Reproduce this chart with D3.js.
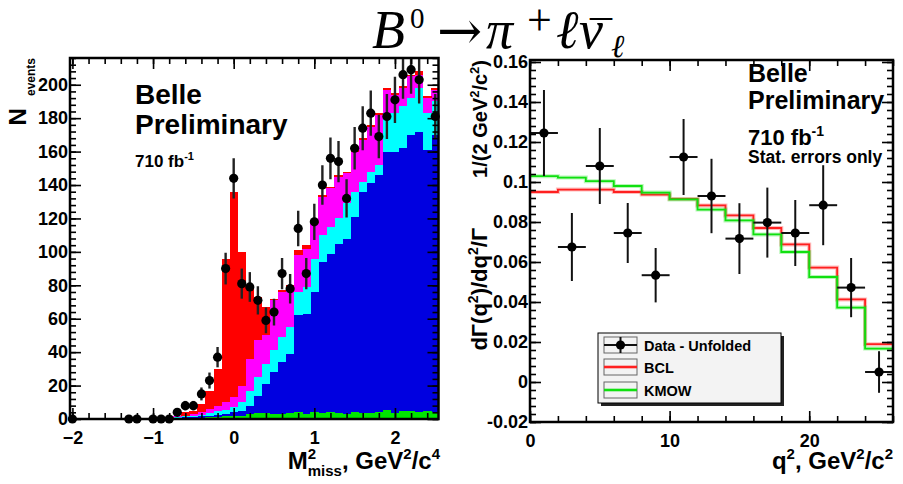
<!DOCTYPE html>
<html>
<head>
<meta charset="utf-8">
<script src="https://cdn.jsdelivr.net/npm/d3@7"></script>
<style>
  body { margin: 0; background: #fff; }
  text { font-family: "Liberation Sans", Arial, sans-serif; font-weight: bold; }
  text.title, text.title tspan { font-family: "Liberation Serif", "DejaVu Serif", serif; font-weight: normal; }
</style>
</head>
<body>
<svg id="chart" width="903" height="484"></svg>
<script>
// ---------- left panel: M^2_miss distribution (bin centres, width 0.1) ----------
const mmBins = [-2.0,-1.9,-1.8,-1.7,-1.6,-1.5,-1.4,-1.3,-1.2,-1.1,-1.0,-0.9,-0.8,-0.7,-0.6,-0.5,-0.4,-0.3,-0.2,-0.1,
  0.0,0.1,0.2,0.3,0.4,0.5,0.6,0.7,0.8,0.9,1.0,1.1,1.2,1.3,1.4,1.5,1.6,1.7,1.8,1.9,2.0,2.1,2.2,2.3,2.4,2.5];
const mmGreen = [.5,.5,.5,.5,.5,.5,.5,.5,.5,.5,.5,.5,
  .5,.5,.5,.5,.7,1,1,1.5,2,2,3,3.5,3.5,3,3,3.5,4,3,4,3.5,4,3.5,3,4,3.5,3.5,4,5.5,3.5,4.5,5,4,5,4];
const mmBlue = [0,0,0,0,0,0,0,0,0,0,0,0,
  .1,.2,.5,.7,.8,1,1.5,1.5,2,3,5,10.5,17.5,25,31,35.5,58,60,72,90.5,95,101.5,105,117,132.5,137.5,142,154.5,156.5,157.5,165,168,156,166];
const mmCyan = [0,0,0,0,0,0,0,0,0,0,0,0,
  .1,.3,.5,.8,1,1.5,2,2.5,3,5,9,11,12,13,15,16,14,16,20,16,16,15,21,15,6,7,6,23,23,25,22,26,22,20];
const mmMagenta = [0,0,0,0,0,0,0,0,0,0,0,0,
  .1,.5,.5,1,1.5,2.5,3.5,4.5,6,10,19,22,17,30,27,24,22,23,21,23,23,25,18,24,25,27,30,14,11,11,13,8,9,7];
const mmRed = [0,0,0,0,0,0,0,0,0,0,0,0,
  .2,.5,2,2,5,11,22,86,123,80,42,26,17,1,1,1,3,2,1,1,1,1,1,1,1,1,1,1,1,1,1,2,1,1];
const mmData = [0,null,null,null,null,null,null,0,0,null,0,0,0,
  4,8,8,15,23,37,90,144,81,79,71,59,64,87,78,114,87,118,140,156,154,132,162,174,183,169,181,191,206,209,203,null,181];
const mmXTicks = [-2, -1, 0, 1, 2];
const mmYTicks = [0, 20, 40, 60, 80, 100, 120, 140, 160, 180, 200];

// ---------- right panel: unfolded q^2 spectrum (bins of 2 GeV^2) ----------
const qLo = [0, 2, 4, 6, 8, 10, 12, 14, 16, 18, 20, 22, 24];
const qHi = [2, 4, 6, 8, 10, 12, 14, 16, 18, 20, 22, 24, 26];
const qData = [0.1245, 0.0675, 0.108, 0.0745, 0.0534, 0.1125, 0.093, 0.0717, 0.0797, 0.0745, 0.0884, 0.0472, 0.005];
const qErr = [0.0215, 0.017, 0.019, 0.015, 0.0136, 0.019, 0.0186, 0.0177, 0.0175, 0.0165, 0.020, 0.0148, 0.0104];
const qBCL = [0.0950, 0.0962, 0.0962, 0.0950, 0.0937, 0.0915, 0.0883, 0.0833, 0.0770, 0.0688, 0.0572, 0.0413, 0.0189];
const qKMOW = [0.1029, 0.1022, 0.1004, 0.0980, 0.0947, 0.0913, 0.0862, 0.0808, 0.0738, 0.0650, 0.0525, 0.0372, 0.0167];
const qXTicks = [0, 10, 20];
const qYTicks = [-0.02, 0, 0.02, 0.04, 0.06, 0.08, 0.1, 0.12, 0.14, 0.16];

const svg = d3.select('#chart');
svg.append('rect').attr('width', 903).attr('height', 484).attr('fill', '#fff');

// ROOT-style frame: inward ticks on all four sides, labels bottom/left
function frameAxes(g, x, y, o) {
  const [xa, xb] = x.range();
  const [yb, ya] = y.range();
  const put = (axis, tx, ty) => g.append('g')
    .attr('transform', `translate(${tx},${ty})`)
    .call(axis)
    .call(s => s.select('.domain').remove())
    .attr('font-size', 18)
    .attr('font-family', '"Liberation Sans", Arial, sans-serif')
    .attr('font-weight', 'bold');

  put(d3.axisBottom(x).tickValues(o.xMajor).tickSize(-11).tickPadding(o.xPad).tickFormat(o.xFmt), 0, yb);
  put(d3.axisBottom(x).tickValues(o.xMinor).tickSize(-6).tickFormat(''), 0, yb);
  put(d3.axisTop(x).tickValues(o.xMajor).tickSize(-11).tickFormat(''), 0, ya);
  put(d3.axisTop(x).tickValues(o.xMinor).tickSize(-6).tickFormat(''), 0, ya);
  put(d3.axisLeft(y).tickValues(o.yMajor).tickSize(-11).tickPadding(o.yPad).tickFormat(o.yFmt), xa, 0);
  put(d3.axisLeft(y).tickValues(o.yMinor).tickSize(-6).tickFormat(''), xa, 0);
  put(d3.axisRight(y).tickValues(o.yMajor).tickSize(-11).tickFormat(''), xb, 0);
  put(d3.axisRight(y).tickValues(o.yMinor).tickSize(-6).tickFormat(''), xb, 0);

  g.selectAll('.tick line').attr('stroke', '#000').attr('stroke-width', 1.6);
  g.selectAll('.tick text').attr('fill', '#000');

  g.append('rect')
    .attr('x', xa).attr('y', ya)
    .attr('width', xb - xa).attr('height', yb - ya)
    .attr('fill', 'none').attr('stroke', '#000').attr('stroke-width', 2.5);
}

// ================= LEFT PANEL =================
const xL = d3.scaleLinear().domain([-2.03, 2.54]).range([70, 438.5]);
const yL = d3.scaleLinear().domain([0, 216]).range([419, 58]);
const gL = svg.append('g');

svg.append('clipPath').attr('id', 'clipL')
  .append('rect').attr('x', 70).attr('y', 58).attr('width', 368.5).attr('height', 361);

const rows = mmBins.map((b, i) => ({
  bin: b, green: mmGreen[i], blue: mmBlue[i], cyan: mmCyan[i], magenta: mmMagenta[i], red: mmRed[i]
}));
const layers = d3.stack().keys(['green', 'blue', 'cyan', 'magenta', 'red'])(rows);
const fills = {green: '#00e600', blue: '#0000e0', cyan: '#00ffff', magenta: '#ff00ff', red: '#ff0000'};

const histG = gL.append('g').attr('clip-path', 'url(#clipL)');
// draw the lower layers last-to-first so green sits visibly on the bottom
['blue', 'cyan', 'magenta', 'red', 'green'].forEach(key => {
  const layer = layers.find(l => l.key === key);
  histG.append('g').selectAll('rect')
    .data(layer)
    .join('rect')
      .attr('x', d => xL(d.data.bin - 0.05))
      .attr('width', d => xL(d.data.bin + 0.05) - xL(d.data.bin - 0.05) + 0.3)
      .attr('y', d => yL(d[1]))
      .attr('height', d => Math.max(0, yL(d[0]) - yL(d[1])))
      .attr('fill', fills[key])
      .attr('shape-rendering', 'crispEdges');
});

const pts = mmBins.map((b, i) => ({bin: b, n: mmData[i]})).filter(d => d.n !== null);
gL.append('g').attr('clip-path', 'url(#clipL)').selectAll('line')
  .data(pts.filter(d => d.n > 0))
  .join('line')
    .attr('x1', d => xL(d.bin)).attr('x2', d => xL(d.bin))
    .attr('y1', d => yL(d.n + Math.sqrt(d.n)))
    .attr('y2', d => yL(d.n - Math.sqrt(d.n)))
    .attr('stroke', '#222').attr('stroke-width', 2.4);
gL.append('g').selectAll('circle')
  .data(pts)
  .join('circle')
    .attr('cx', d => xL(d.bin))
    .attr('cy', d => yL(d.n))
    .attr('r', 4.6)
    .attr('fill', '#000');

frameAxes(gL, xL, yL, {
  xMajor: mmXTicks, xMinor: d3.range(-2, 2.55, 0.2), xPad: 12, xFmt: d3.format('d'),
  yMajor: mmYTicks, yMinor: d3.range(0, 217, 4), yPad: 2, yFmt: d3.format('d')
});

// texts left
gL.append('text').attr('x', 135).attr('y', 104).attr('font-size', 28).text('Belle');
gL.append('text').attr('x', 135).attr('y', 134).attr('font-size', 28).text('Preliminary');
gL.append('text').attr('x', 135).attr('y', 167).attr('font-size', 17)
  .call(t => {
    t.append('tspan').text('710 fb');
    t.append('tspan').attr('font-size', 11).attr('dy', -7).text('-1');
  });

// x title left: M^2_miss, GeV^2/c^4 (right aligned to frame)
gL.append('text').attr('x', 440).attr('y', 469).attr('text-anchor', 'end').attr('font-size', 24)
  .call(t => {
    t.append('tspan').text('M');
    t.append('tspan').attr('font-size', 15).attr('dy', -10).text('2');
    t.append('tspan').attr('font-size', 15).attr('dx', -8.3).attr('dy', 17).text('miss');
    t.append('tspan').attr('dy', -7).text(', GeV');
    t.append('tspan').attr('font-size', 15).attr('dy', -10).text('2');
    t.append('tspan').attr('dy', 10).text('/c');
    t.append('tspan').attr('font-size', 15).attr('dy', -10).text('4');
  });

// y title left: N_events
gL.append('text').attr('transform', 'translate(26,58) rotate(-90)')
  .attr('text-anchor', 'end').attr('font-size', 24)
  .call(t => {
    t.append('tspan').text('N');
    t.append('tspan').attr('font-size', 12).attr('dx', 12).attr('dy', 9).text('events');
  });

// ================= RIGHT PANEL =================
const xR = d3.scaleLinear().domain([0, 26]).range([530, 893]);
const yR = d3.scaleLinear().domain([-0.02, 0.161]).range([422, 60]);
const gR = svg.append('g');

svg.append('clipPath').attr('id', 'clipR')
  .append('rect').attr('x', 530).attr('y', 60).attr('width', 363).attr('height', 362);

const stepLine = d3.line().x(d => xR(d[0])).y(d => yR(d[1])).curve(d3.curveStepAfter);
const stepPts = vals => vals.map((v, i) => [qLo[i], v]).concat([[qHi[qHi.length - 1], vals[vals.length - 1]]]);

const curves = gR.append('g').attr('clip-path', 'url(#clipR)');
[[qBCL, '#ff2020'], [qKMOW, '#10e010']].forEach(([vals, col]) => {
  curves.append('path').datum(stepPts(vals))
    .attr('d', stepLine).attr('fill', 'none')
    .attr('stroke', col).attr('stroke-opacity', 0.3).attr('stroke-width', 4);
  curves.append('path').datum(stepPts(vals))
    .attr('d', stepLine).attr('fill', 'none')
    .attr('stroke', col).attr('stroke-width', 1.8);
});

const qPts = qData.map((v, i) => ({lo: qLo[i], hi: qHi[i], v, e: qErr[i]}));
const ptG = gR.append('g').attr('clip-path', 'url(#clipR)');
ptG.selectAll('.eh').data(qPts).join('line').attr('class', 'eh')
  .attr('x1', d => xR(d.lo)).attr('x2', d => xR(d.hi))
  .attr('y1', d => yR(d.v)).attr('y2', d => yR(d.v))
  .attr('stroke', '#111').attr('stroke-width', 2);
ptG.selectAll('.ev').data(qPts).join('line').attr('class', 'ev')
  .attr('x1', d => xR((d.lo + d.hi) / 2)).attr('x2', d => xR((d.lo + d.hi) / 2))
  .attr('y1', d => yR(d.v + d.e)).attr('y2', d => yR(d.v - d.e))
  .attr('stroke', '#111').attr('stroke-width', 2);
ptG.selectAll('circle').data(qPts).join('circle')
  .attr('cx', d => xR((d.lo + d.hi) / 2)).attr('cy', d => yR(d.v))
  .attr('r', 4.6).attr('fill', '#000');

frameAxes(gR, xR, yR, {
  xMajor: qXTicks, xMinor: d3.range(0, 26.1, 2), xPad: 12, xFmt: d3.format('d'),
  yMajor: qYTicks, yMinor: d3.range(-0.02, 0.1612, 0.004), yPad: 2, yFmt: d => String(+d.toFixed(3))
});

// legend
const lg = gR.append('g');
lg.append('rect').attr('x', 601).attr('y', 336).attr('width', 183).attr('height', 70).attr('fill', '#222');
lg.append('rect').attr('x', 598).attr('y', 333).attr('width', 183).attr('height', 70)
  .attr('fill', '#f3f3f3').attr('stroke', '#000').attr('stroke-width', 1);
const legendItems = [
  {label: 'Data - Unfolded', col: '#000', cy: 345},
  {label: 'BCL', col: '#ff2020', cy: 367},
  {label: 'KMOW', col: '#10e010', cy: 390}
];
legendItems.forEach((it, i) => {
  lg.append('rect').attr('x', 604).attr('y', it.cy - 8).attr('width', 33).attr('height', 16)
    .attr('fill', 'none').attr('stroke', '#666').attr('stroke-width', 1);
  if (i === 0) {
    lg.append('line').attr('x1', 604).attr('x2', 637).attr('y1', it.cy).attr('y2', it.cy)
      .attr('stroke', '#111').attr('stroke-width', 2);
    lg.append('line').attr('x1', 620.5).attr('x2', 620.5).attr('y1', it.cy - 8).attr('y2', it.cy + 8)
      .attr('stroke', '#111').attr('stroke-width', 2);
    lg.append('circle').attr('cx', 620.5).attr('cy', it.cy).attr('r', 4.6).attr('fill', '#000');
  } else {
    lg.append('line').attr('x1', 604).attr('x2', 637).attr('y1', it.cy).attr('y2', it.cy)
      .attr('stroke', it.col).attr('stroke-opacity', 0.3).attr('stroke-width', 4);
    lg.append('line').attr('x1', 604).attr('x2', 637).attr('y1', it.cy).attr('y2', it.cy)
      .attr('stroke', it.col).attr('stroke-width', 1.8);
  }
  lg.append('text').attr('x', 644).attr('y', it.cy + 5.5).attr('font-size', 14.5).text(it.label);
});

// texts right
gR.append('text').attr('x', 748).attr('y', 82).attr('font-size', 25).text('Belle');
gR.append('text').attr('x', 748).attr('y', 109).attr('font-size', 25).text('Preliminary');
gR.append('text').attr('x', 748).attr('y', 145).attr('font-size', 22)
  .call(t => {
    t.append('tspan').text('710 fb');
    t.append('tspan').attr('font-size', 14).attr('dy', -9).text('-1');
  });
gR.append('text').attr('x', 748).attr('y', 163).attr('font-size', 17.5).text('Stat. errors only');

// x title right
gR.append('text').attr('x', 893).attr('y', 469).attr('text-anchor', 'end').attr('font-size', 24)
  .call(t => {
    t.append('tspan').text('q');
    t.append('tspan').attr('font-size', 15).attr('dy', -10).text('2');
    t.append('tspan').attr('dy', 10).text(', GeV');
    t.append('tspan').attr('font-size', 15).attr('dy', -10).text('2');
    t.append('tspan').attr('dy', 10).text('/c');
    t.append('tspan').attr('font-size', 15).attr('dy', -10).text('2');
  });

// y title right
gR.append('text').attr('transform', 'translate(487,60) rotate(-90)')
  .attr('text-anchor', 'end').attr('font-size', 22)
  .call(t => {
    t.append('tspan').text('dΓ(q');
    t.append('tspan').attr('font-size', 14).attr('dy', -9).text('2');
    t.append('tspan').attr('dy', 9).text(')/dq');
    t.append('tspan').attr('font-size', 14).attr('dy', -9).text('2');
    t.append('tspan').attr('dy', 9).text('/Γ');
    t.append('tspan').attr('font-size', 20).attr('dx', 50).text('1/(2 GeV');
    t.append('tspan').attr('font-size', 13).attr('dy', -8).text('2');
    t.append('tspan').attr('font-size', 20).attr('dy', 8).text('/c');
    t.append('tspan').attr('font-size', 13).attr('dy', -8).text('2');
    t.append('tspan').attr('font-size', 20).attr('dy', 8).text(')');
  });

// ================= TITLE =================
const title = svg.append('text').attr('class', 'title');
title.append('tspan').attr('x', 372).attr('y', 48).attr('font-size', 54).attr('font-style', 'italic').text('B');
title.append('tspan').attr('x', 410).attr('y', 28).attr('font-size', 29).text('0');
title.append('tspan').attr('x', 437).attr('y', 49).attr('font-size', 54)
  .style('font-family', '"DejaVu Serif", serif').text('→');
title.append('tspan').attr('x', 486).attr('y', 48).attr('font-size', 54).attr('font-style', 'italic').text('π');
title.append('tspan').attr('x', 527).attr('y', 35).attr('font-size', 44).text('+');
title.append('tspan').attr('x', 556).attr('y', 48).attr('font-size', 54).attr('font-style', 'italic').text('ℓ');
title.append('tspan').attr('x', 579).attr('y', 48).attr('font-size', 54).attr('font-style', 'italic').text('ν');
title.append('tspan').attr('x', 590).attr('y', 52).attr('font-size', 44).text('¯');
title.append('tspan').attr('x', 611).attr('y', 57).attr('font-size', 32).attr('font-style', 'italic').text('ℓ');
</script>
</body>
</html>
